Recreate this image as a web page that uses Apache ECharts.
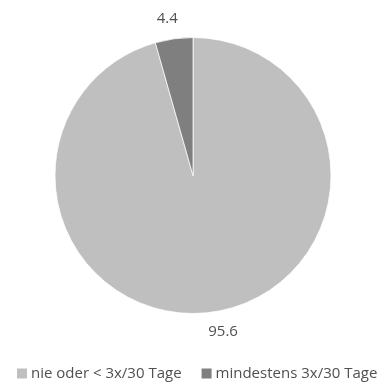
<!DOCTYPE html>
<html>
<head>
<meta charset="utf-8">
<script src="https://cdn.jsdelivr.net/npm/echarts@6/dist/echarts.min.js"></script>
<style>
html,body{margin:0;padding:0;background:#fff;}
#chart{width:380px;height:384px;}
</style>
</head>
<body>
<div id="chart"></div>
<script>
const categories = ['nie oder < 3x/30 Tage', 'mindestens 3x/30 Tage'];
const values = [95.6, 4.4];
const colors = ['#BFBFBF', '#7F7F7F'];

const chart = echarts.init(document.getElementById('chart'), null, {renderer: 'canvas'});
chart.setOption({
  animation: false,
  backgroundColor: '#ffffff',
  color: colors,
  legend: {
    data: categories,
    left: 17,
    top: 366,
    width: 363,
    padding: 0,
    itemWidth: 10,
    itemHeight: 10,
    itemGap: 20,
    icon: 'rect',
    itemStyle: {borderWidth: 0},
    textStyle: {fontFamily: 'Open Sans', fontSize: 15, color: '#505050', padding: [0, 0, 0, -1]}
  },
  series: [{
    type: 'pie',
    center: [193, 175.5],
    radius: 138,
    startAngle: 90,
    clockwise: true,
    avoidLabelOverlap: false,
    itemStyle: {borderColor: '#ffffff', borderWidth: 0.75},
    label: {
      show: true,
      position: 'outside',
      formatter: '{c}',
      fontFamily: 'Open Sans',
      fontSize: 15,
      color: '#505050',
      distanceToLabelLine: -6.5
    },
    labelLine: {show: false, length: 20, length2: 0},
    emphasis: {disabled: true},
    data: categories.map((c, i) => ({name: c, value: values[i]}))
  }]
});
</script>
</body>
</html>
